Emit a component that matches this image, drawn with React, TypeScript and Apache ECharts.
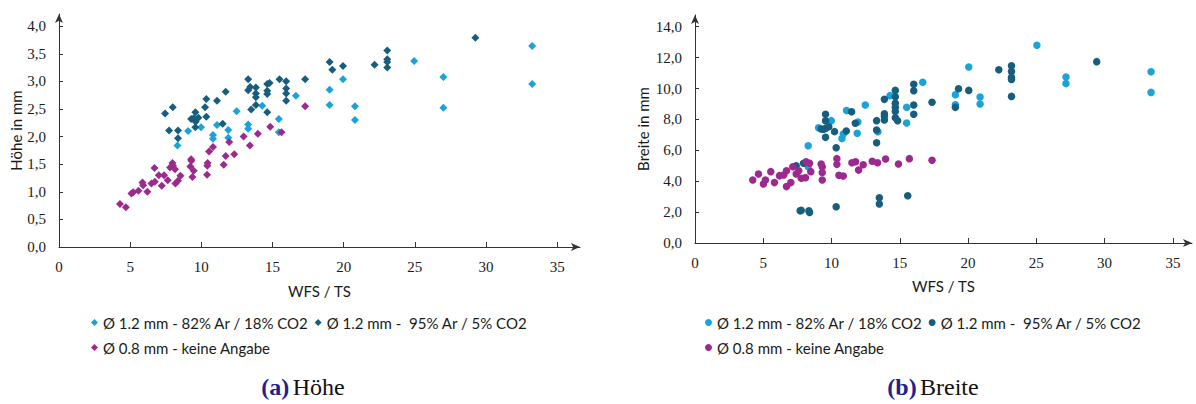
import React, { useEffect, useRef } from "react";
import * as echarts from "echarts";

// Series names (legend entries)
const S82 = "Ø 1.2 mm - 82% Ar / 18% CO2";
const S95 = "Ø 1.2 mm -  95% Ar / 5% CO2";
const S08 = "Ø 0.8 mm - keine Angabe";

// Tick values
const xTicks = [0, 5, 10, 15, 20, 25, 30, 35];
const hoeheTicks = [0, 0.5, 1, 1.5, 2, 2.5, 3, 3.5, 4];
const breiteTicks = [0, 2, 4, 6, 8, 10, 12, 14];

// Höhe (mm) vs WFS / TS
const h82X = [8.32, 9.07, 9.98, 10.82, 10.82, 11.1, 11.89, 11.89, 12.48, 13.29, 13.29, 14.28, 15.44, 15.44, 16.64, 19.01, 19.01, 19.95, 20.79, 20.79, 24.95, 27.0, 27.0, 33.24, 33.24];
const h82Y = [1.84, 2.1, 2.17, 2.03, 1.96, 2.21, 2.12, 1.98, 2.46, 2.22, 2.14, 2.56, 2.32, 2.08, 2.74, 2.85, 2.57, 3.04, 2.55, 2.3, 3.37, 3.08, 2.52, 3.64, 2.95];

const h95X = [7.45, 7.73, 7.99, 8.36, 8.36, 9.28, 9.46, 9.58, 9.58, 9.6, 9.79, 10.26, 10.35, 10.35, 11.1, 11.5, 11.71, 13.29, 13.29, 13.43, 13.5, 13.83, 13.83, 13.83, 13.83, 14.63, 14.63, 14.63, 14.63, 14.79, 15.49, 15.96, 15.96, 15.96, 15.96, 17.29, 19.01, 19.2, 19.95, 22.17, 23.06, 23.06, 23.06, 23.06, 29.25];
const h95Y = [2.42, 2.11, 2.53, 2.11, 1.97, 2.32, 2.33, 2.44, 2.17, 2.27, 2.34, 2.53, 2.68, 2.36, 2.65, 2.23, 2.81, 3.04, 2.84, 2.9, 2.49, 2.89, 2.78, 2.71, 2.57, 2.95, 2.83, 2.77, 2.44, 2.97, 3.04, 3.0, 2.87, 2.78, 2.65, 3.04, 3.35, 3.21, 3.28, 3.3, 3.56, 3.4, 3.35, 3.25, 3.79];

const h08X = [4.28, 4.7, 5.09, 5.21, 5.58, 5.86, 5.91, 6.21, 6.5, 6.71, 6.73, 7.01, 7.22, 7.38, 7.64, 7.8, 7.97, 8.01, 8.15, 8.18, 8.36, 8.53, 9.23, 9.28, 9.3, 9.37, 9.46, 10.4, 10.42, 10.44, 10.54, 10.82, 11.57, 11.71, 11.96, 12.31, 12.97, 13.41, 13.97, 14.84, 15.63, 17.29];
const h08Y = [0.78, 0.72, 0.97, 0.99, 1.02, 1.17, 1.12, 1.0, 1.15, 1.43, 1.18, 1.3, 1.11, 1.3, 1.21, 1.44, 1.52, 1.47, 1.41, 1.15, 1.2, 1.29, 1.46, 1.59, 1.56, 1.27, 1.38, 1.31, 1.47, 1.52, 1.73, 1.81, 1.49, 1.65, 1.9, 1.68, 2.0, 1.84, 2.05, 2.18, 2.08, 2.55];

// Breite (mm) vs WFS / TS
const b82X = [8.29, 8.29, 9.05, 9.98, 10.76, 10.86, 11.1, 11.88, 11.93, 12.47, 13.4, 14.28, 15.5, 15.5, 16.68, 19.07, 19.07, 20.05, 20.88, 20.88, 25.04, 27.17, 27.17, 33.4, 33.4];
const b82Y = [6.3, 4.94, 7.46, 7.92, 6.77, 7.06, 8.57, 7.1, 7.83, 8.93, 7.2, 9.54, 8.78, 7.77, 10.4, 9.6, 8.95, 11.39, 9.45, 9.0, 12.8, 10.74, 10.33, 11.09, 9.75];

const b95X = [7.7, 7.78, 8.34, 8.39, 7.41, 7.95, 9.24, 9.41, 9.56, 9.56, 9.56, 9.56, 9.8, 10.22, 10.34, 10.34, 11.08, 11.47, 11.74, 13.3, 13.3, 13.3, 13.5, 13.5, 13.87, 13.87, 13.87, 13.87, 14.67, 14.67, 14.67, 14.67, 14.67, 14.67, 14.84, 15.58, 16.02, 16.02, 16.02, 16.02, 17.36, 19.07, 19.3, 20.05, 22.25, 23.18, 23.18, 23.18, 23.18, 23.18, 29.42];
const b95Y = [2.09, 2.11, 2.09, 1.98, 5.0, 5.16, 7.38, 7.36, 8.33, 7.92, 7.42, 6.84, 7.53, 7.21, 6.17, 2.35, 7.25, 8.5, 7.75, 7.92, 7.31, 6.49, 2.93, 2.52, 9.3, 8.37, 8.2, 7.96, 9.88, 9.47, 9.04, 8.78, 8.51, 8.11, 7.92, 3.06, 10.27, 9.86, 8.93, 8.33, 9.11, 8.78, 9.99, 9.88, 11.22, 11.48, 11.11, 10.72, 10.59, 9.49, 11.74];

const b08X = [4.23, 4.65, 5.01, 5.16, 5.55, 5.82, 6.19, 6.5, 6.7, 6.7, 7.02, 7.16, 7.41, 7.6, 7.78, 8.09, 8.14, 8.39, 8.48, 9.24, 9.32, 9.32, 9.32, 10.39, 10.39, 10.54, 10.86, 11.49, 11.76, 11.98, 12.32, 12.98, 13.37, 13.96, 14.9, 15.7, 17.36];
const b08Y = [4.08, 4.47, 3.82, 4.08, 4.62, 3.91, 4.36, 4.4, 4.68, 3.65, 3.91, 4.94, 4.47, 4.68, 4.19, 4.23, 5.26, 5.16, 4.62, 5.11, 4.94, 4.57, 4.08, 5.46, 5.09, 4.38, 4.34, 5.2, 5.26, 4.72, 5.07, 5.29, 5.2, 5.44, 5.11, 5.46, 5.35];

const C82 = "#1aa2da";
const C95 = "#175d7e";
const C08 = "#9c2a8e";

const zip = (xs: number[], ys: number[]) => xs.map((x, i) => [x, ys[i]]);

const AXIS_COLOR = "#333333";
const TEXT_COLOR = "#1a1a1a";
const SERIF = "Liberation Serif";
const SANS = "Lato";

function xAxisCfg(gridIndex: number, max: number, nameGap: number) {
  return {
    type: "value",
    gridIndex,
    min: 0,
    max,
    name: "WFS / TS",
    nameLocation: "middle",
    nameGap,
    nameTextStyle: { fontFamily: SANS, fontSize: 15, color: TEXT_COLOR },
    splitLine: { show: false },
    axisLine: {
      show: true,
      symbol: ["none", "arrow"],
      symbolSize: [6, 9],
      lineStyle: { color: AXIS_COLOR, width: 1 },
    },
    axisTick: { show: true, inside: true, length: 5, customValues: xTicks, lineStyle: { color: AXIS_COLOR } },
    axisLabel: {
      customValues: xTicks,
      margin: 12,
      fontFamily: SERIF,
      fontSize: 15,
      color: TEXT_COLOR,
      formatter: (v: number) => String(v),
    },
  };
}

function yAxisCfg(gridIndex: number, max: number, ticks: number[], name: string, nameGap: number) {
  return {
    type: "value",
    gridIndex,
    min: 0,
    max,
    name,
    nameLocation: "middle",
    nameGap,
    nameRotate: 90,
    nameTextStyle: { fontFamily: SANS, fontSize: 15, color: TEXT_COLOR },
    splitLine: { show: false },
    axisLine: {
      show: true,
      symbol: ["none", "arrow"],
      symbolSize: [6, 9],
      lineStyle: { color: AXIS_COLOR, width: 1 },
    },
    axisTick: { show: true, inside: true, length: 4, customValues: ticks, lineStyle: { color: AXIS_COLOR } },
    axisLabel: {
      customValues: ticks,
      margin: 13,
      fontFamily: SERIF,
      fontSize: 15,
      color: TEXT_COLOR,
      formatter: (v: number) => v.toFixed(1).replace(".", ","),
    },
  };
}

function scatter(name: string, color: string, data: number[][], idx: number, symbol: string, size: number) {
  return {
    type: "scatter",
    name,
    xAxisIndex: idx,
    yAxisIndex: idx,
    symbol,
    symbolSize: size,
    itemStyle: { color, opacity: 1 },
    data,
  };
}

function legendRow(left: number, top: number, names: string[], icon: string) {
  return {
    left,
    top,
    orient: "horizontal",
    selectedMode: false,
    itemWidth: 7,
    itemHeight: 7,
    itemGap: 6,
    padding: 0,
    data: names.map((n) => ({ name: n, icon })),
    textStyle: { fontFamily: SANS, fontSize: 15, color: TEXT_COLOR, lineHeight: 17 },
  };
}

function caption(x: number, y: number, label: string, title: string) {
  return {
    type: "text",
    x,
    y,
    style: {
      text: `{b|${label}} {t|${title}}`,
      textAlign: "center",
      textVerticalAlign: "middle",
      rich: {
        b: { fontFamily: SERIF, fontSize: 24, fontWeight: "bold", fill: "#20208f" },
        t: { fontFamily: SERIF, fontSize: 24, fill: "#111111" },
      },
    },
  };
}

export default function App() {
  const ref = useRef<HTMLDivElement>(null);

  useEffect(() => {
    if (!ref.current) return;
    const chart = echarts.init(ref.current, null, { renderer: "svg" });
    chart.setOption({
      animation: false,
      backgroundColor: "#ffffff",
      grid: [
        { left: 59, top: 14, width: 521, height: 233 },
        { left: 695, top: 15, width: 497, height: 228 },
      ],
      xAxis: [xAxisCfg(0, 36.6, 36), xAxisCfg(1, 36.4, 35)],
      yAxis: [
        yAxisCfg(0, 4.22, hoeheTicks, "Höhe in mm", 35),
        yAxisCfg(1, 14.76, breiteTicks, "Breite in mm", 45),
      ],
      legend: [
        legendRow(91, 314, [S82, S95], "diamond"),
        legendRow(91, 339, [S08], "diamond"),
        legendRow(705, 314, [S82, S95], "circle"),
        legendRow(705, 339, [S08], "circle"),
      ],
      series: [
        scatter(S82, C82, zip(h82X, h82Y), 0, "diamond", 8),
        scatter(S95, C95, zip(h95X, h95Y), 0, "diamond", 8),
        scatter(S08, C08, zip(h08X, h08Y), 0, "diamond", 8),
        scatter(S82, C82, zip(b82X, b82Y), 1, "circle", 7.5),
        scatter(S95, C95, zip(b95X, b95Y), 1, "circle", 7.5),
        scatter(S08, C08, zip(b08X, b08Y), 1, "circle", 7.5),
      ],
      graphic: [caption(303, 387, "(a)", "Höhe"), caption(933, 387, "(b)", "Breite")],
    });
    return () => chart.dispose();
  }, []);

  return (
    <div
      ref={ref}
      style={{ position: "fixed", left: 0, top: 0, width: 1196, height: 404, background: "#fff" }}
    />
  );
}
